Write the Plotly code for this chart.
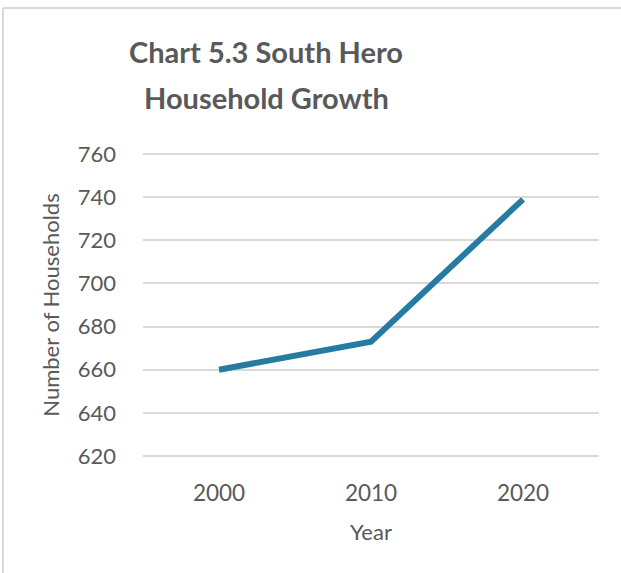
import plotly.graph_objects as go

years = ["2000", "2010", "2020"]
households = [660, 673, 739]
y_ticks = [620, 640, 660, 680, 700, 720, 740, 760]
title_lines = ["Chart 5.3 South Hero", "Household Growth"]

W, H = 621, 573
L, R, T, B = 143, 22, 153, 116
pw, ph = W - L - R, H - T - B

fig = go.Figure()
fig.add_trace(go.Scatter(
    x=years, y=households, mode="lines",
    line=dict(color="#267ba2", width=6),
    hoverinfo="x+y",
))

font_fam = "Lato, 'Open Sans', sans-serif"
fig.update_layout(
    width=W, height=H,
    margin=dict(l=L, r=R, t=T, b=B),
    paper_bgcolor="white", plot_bgcolor="white",
    showlegend=False,
    font=dict(family=font_fam, color="#595959"),
    title=dict(
        text="<b>" + title_lines[0] + "</b>",
        x=266 / W, xanchor="center", xref="container",
        y=1 - 53 / H, yanchor="middle", yref="container",
        font=dict(size=29, color="#595959", family=font_fam),
    ),
    annotations=[dict(
        text="<b>" + title_lines[1] + "</b>",
        xref="paper", yref="paper",
        x=(266 - L) / pw, y=1 + (T - 98) / ph,
        xanchor="center", yanchor="middle", showarrow=False,
        font=dict(size=29, color="#595959", family=font_fam),
    )],
    xaxis=dict(
        type="category", range=[-0.5, 2.5],
        showgrid=False, zeroline=False, showline=False,
        ticks="", tickfont=dict(size=22.5, color="#595959"),
        ticklabelstandoff=20,
        title=dict(text="Year", font=dict(size=22, color="#595959"), standoff=20),
    ),
    yaxis=dict(
        range=[619.5, 760.5], tickvals=y_ticks,
        showgrid=True, gridcolor="#d9d9d9", gridwidth=1.5,
        zeroline=False, showline=False, ticks="",
        tickfont=dict(size=22, color="#595959"),
        ticklabelstandoff=26,
        title=dict(text="Number of Households", font=dict(size=22, color="#595959"), standoff=12),
    ),
    shapes=[
        dict(type="line", xref="paper", yref="paper",
             x0=(3 - L) / pw, x1=(W - L) / pw,
             y0=1 + (T - 8) / ph, y1=1 + (T - 8) / ph,
             line=dict(color="#d9d9d9", width=2)),
        dict(type="line", xref="paper", yref="paper",
             x0=(3 - L) / pw, x1=(3 - L) / pw,
             y0=1 + (T - 8) / ph, y1=-B / ph,
             line=dict(color="#d9d9d9", width=2)),
    ],
)

fig.write_html("out.html", config={"displayModeBar": False},
               post_script="document.body.style.margin='0';")
